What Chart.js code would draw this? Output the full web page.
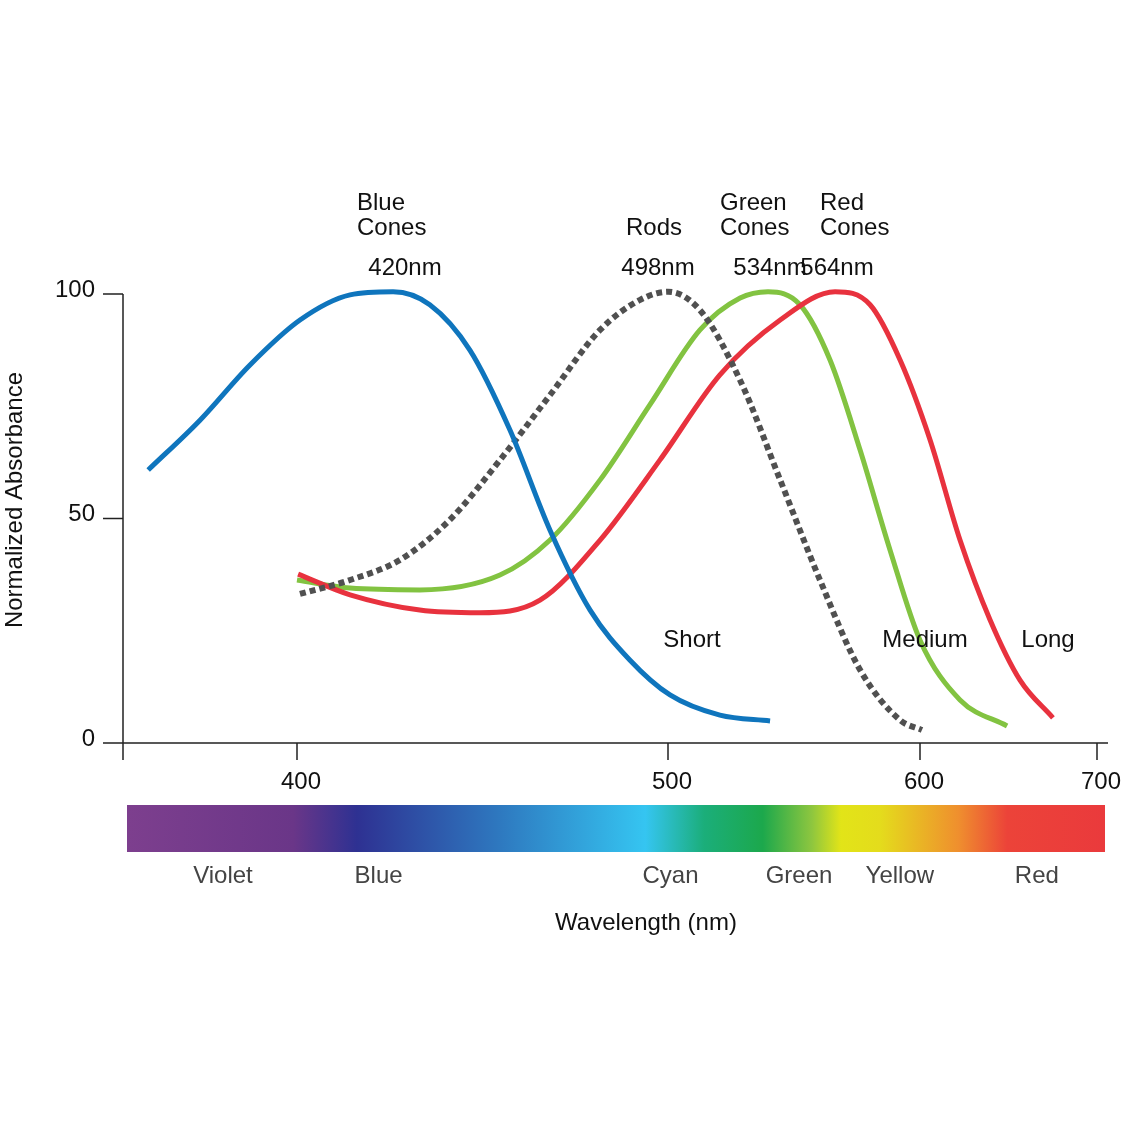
<!DOCTYPE html>
<html>
<head>
<meta charset="utf-8">
<script src="https://cdn.jsdelivr.net/npm/chart.js@4"></script>
<style>
  html, body { margin: 0; padding: 0; background: #fff; }
  #wrap { width: 1126px; height: 1125px; }
</style>
</head>
<body>
<div id="wrap"><canvas id="chart" width="1126" height="1125"></canvas></div>
<script>
// wavelengths (nm) and normalized absorbance
const blueNm   = [359.8, 373.8, 387.3, 400.8, 414.3, 425.9, 435.8, 446.6, 457.4, 468.2, 479.0, 489.7, 500.8, 520.6, 540.5];
const blueAbs  = [60.8, 71.9, 84.2, 94.2, 99.8, 100.5, 97.6, 87.5, 69.7, 47.4, 29.6, 18.5, 10.7, 6.2, 4.9];
const rodNm    = [400.8, 414.3, 427.8, 441.2, 454.7, 468.2, 481.7, 492.5, 500.0, 512.7, 528.6, 544.5, 560.3, 576.2, 592.1, 601.1];
const rodAbs   = [33.2, 36.3, 40.8, 49.7, 63.0, 77.5, 92.0, 98.7, 100.5, 96.4, 80.8, 58.6, 36.3, 16.3, 5.1, 2.9];
const greenNm  = [400.0, 414.3, 433.1, 454.7, 468.2, 481.7, 495.1, 512.7, 528.6, 539.7, 552.4, 564.3, 576.2, 588.1, 600.0, 622.6, 649.2];
const greenAbs = [36.3, 34.5, 34.1, 37.4, 45.2, 58.6, 75.3, 92.0, 99.1, 100.5, 97.6, 85.3, 65.3, 43.0, 22.9, 9.6, 3.8];
const redNm    = [400.3, 414.3, 433.1, 449.3, 465.5, 481.7, 497.8, 520.6, 544.5, 566.3, 580.2, 592.1, 605.7, 622.6, 639.6, 656.5, 675.1];
const redAbs   = [37.6, 33.0, 29.6, 29.0, 31.8, 45.2, 63.0, 82.0, 94.2, 100.5, 97.6, 85.3, 67.5, 45.2, 27.4, 14.0, 5.6];

const xTicks = [400, 500, 600, 700];
const yTicks = [0, 50, 100];
const bandNames = ['Violet', 'Blue', 'Cyan', 'Green', 'Yellow', 'Red'];
const bandNm    = [380, 422, 501, 552, 592, 666];
const peaks = [
  { lines: ['Blue', 'Cones'],  nm: '420nm', at: 393 },
  { lines: ['Rods'],           nm: '498nm', at: 668 },
  { lines: ['Green', 'Cones'], nm: '534nm', at: 768 },
  { lines: ['Red', 'Cones'],   nm: '564nm', at: 835 }
];
const endNames = [['Short', 692], ['Medium', 925], ['Long', 1048]];

// the original axis is not linear: piecewise map from nm to horizontal position
const knots = [[353, 123], [400, 297], [500, 668], [600, 920], [700, 1097], [720, 1132]];
function warp(nm) {
  for (let i = 1; i < knots.length; i++) {
    if (nm <= knots[i][0]) {
      const [a, pa] = knots[i - 1], [b, pb] = knots[i];
      return pa + (nm - a) / (b - a) * (pb - pa);
    }
  }
  return knots[knots.length - 1][1];
}
const pts = (xs, ys) => xs.map((v, i) => ({ x: warp(v), y: ys[i] }));

const FONT = '"Liberation Sans", Arial, sans-serif';

const decor = {
  id: 'decor',
  afterDraw(chart) {
    const { ctx, scales: { x, y } } = chart;
    const y0 = y.getPixelForValue(0);
    ctx.save();
    ctx.strokeStyle = '#222';
    ctx.lineWidth = 1.5;
    ctx.beginPath();
    ctx.moveTo(x.left, y.getPixelForValue(100));
    ctx.lineTo(x.left, y0 + 17);
    ctx.moveTo(110, y0);
    ctx.lineTo(1108, y0);
    yTicks.forEach(t => { const p = y.getPixelForValue(t); ctx.moveTo(103, p); ctx.lineTo(x.left, p); });
    xTicks.forEach(t => { const p = x.getPixelForValue(warp(t)); ctx.moveTo(p, y0); ctx.lineTo(p, y0 + 17); });
    ctx.stroke();

    ctx.fillStyle = '#111';
    ctx.font = '24px ' + FONT;
    ctx.textAlign = 'right';
    ctx.textBaseline = 'middle';
    yTicks.forEach(t => ctx.fillText(String(t), 95, y.getPixelForValue(t) - 4));
    ctx.textAlign = 'center';
    xTicks.forEach(t => ctx.fillText(String(t), x.getPixelForValue(warp(t)) + 4, 782));

    // spectrum bar
    const g = ctx.createLinearGradient(127, 0, 1105, 0);
    const stops = [[0, '#7d3f8e'], [0.17, '#6a3688'], [0.235, '#2e3192'], [0.38, '#2e78bf'], [0.53, '#35c5f1'],
                   [0.59, '#1bae7a'], [0.65, '#1ca84c'], [0.7, '#8dc63f'], [0.73, '#e2e418'], [0.77, '#e4dc1c'],
                   [0.85, '#ef8f2e'], [0.9, '#ec4339'], [1, '#ea3a3c']];
    stops.forEach(s => g.addColorStop(s[0], s[1]));
    ctx.fillStyle = g;
    ctx.fillRect(127, 805, 978, 47);

    ctx.fillStyle = '#444';
    bandNames.forEach((n, i) => ctx.fillText(n, x.getPixelForValue(warp(bandNm[i])), 876));
    ctx.fillStyle = '#111';
    ctx.fillText('Wavelength (nm)', 646, 923);

    ctx.textAlign = 'center';
    peaks.forEach(p => {
      ctx.fillText(p.nm, p.at + (p.at === 393 ? 12 : (p.at === 668 ? -10 : 2)), 268);
      p.lines.forEach((l, j) => {
        const top = 268 - 40 - (p.lines.length - 1 - j) * 25;
        ctx.textAlign = 'left';
        ctx.fillText(l, p.at - (p.at === 393 ? 36 : (p.at === 668 ? 42 : (p.at === 768 ? 48 : 15))), top);
        ctx.textAlign = 'center';
      });
    });
    endNames.forEach(e => ctx.fillText(e[0], e[1], 640));

    ctx.translate(15, 500);
    ctx.rotate(-Math.PI / 2);
    ctx.fillText('Normalized Absorbance', 0, 0);
    ctx.restore();
  }
};

const line = (data, color, dash) => ({
  data, borderColor: color, borderWidth: dash ? 6 : 5, borderDash: dash || [],
  pointRadius: 0, tension: 0.4, cubicInterpolationMode: 'monotone', fill: false, clip: false
});

new Chart(document.getElementById('chart'), {
  type: 'line',
  data: {
    datasets: [
      line(pts(blueNm, blueAbs), '#0f75bd'),
      line(pts(rodNm, rodAbs), '#505050', [6, 4]),
      line(pts(redNm, redAbs), '#e8323e'),
      line(pts(greenNm, greenAbs), '#82c341')
    ]
  },
  options: {
    responsive: false,
    animation: false,
    layout: { padding: { left: 123, right: 18, top: 294, bottom: 382 } },
    plugins: { legend: { display: false }, tooltip: { enabled: false } },
    scales: {
      x: { type: 'linear', min: 123, max: 1108, display: false },
      y: { type: 'linear', min: 0, max: 100, display: false }
    }
  },
  plugins: [decor]
});
</script>
</body>
</html>
